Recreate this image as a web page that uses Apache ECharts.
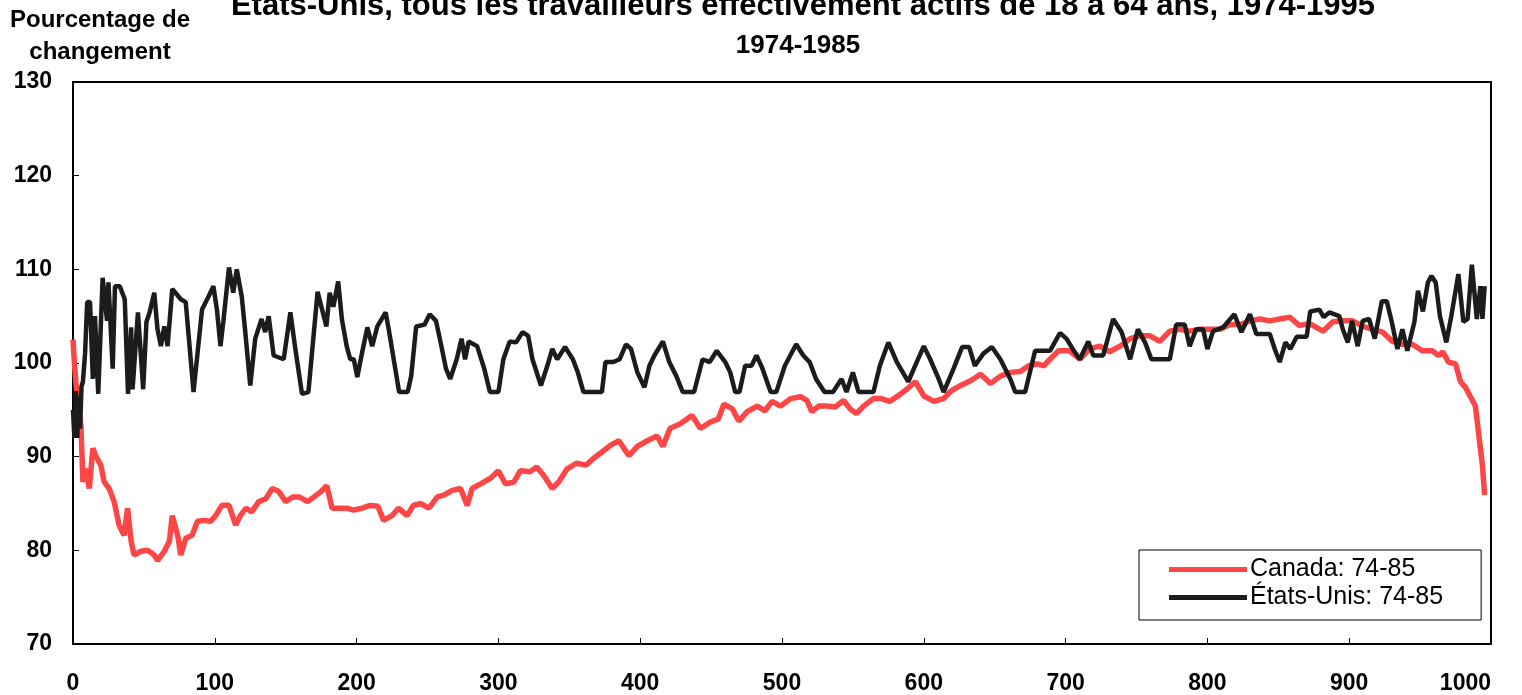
<!DOCTYPE html>
<html>
<head>
<meta charset="utf-8">
<script src="https://cdn.jsdelivr.net/npm/echarts@6/dist/echarts.min.js"></script>
<style>
  html, body { margin: 0; padding: 0; background: #ffffff; }
  #chart { width: 1522px; height: 695px; }
</style>
</head>
<body>
<div id="chart"></div>
<script>
// Index of change (percent), Canada vs United States, 1974-1985
const caX = [0, 1, 2, 3, 4, 5.6, 7, 9, 11.5, 14, 16, 19.6, 22, 25.5, 29, 32.5, 36, 38.5, 41, 43, 48, 52.6, 57.3, 59.7, 64.4, 68, 70, 73.8, 76, 79.6, 84, 87.8, 92.5, 97, 100.6, 105, 110, 114.7, 118, 122, 126, 131, 136, 140.5, 145, 150, 155, 159.5, 165.5, 171.6, 175, 179, 182.7, 193, 198, 204, 209.6, 215, 219, 225, 229.5, 235.6, 240, 245, 251, 257, 261.5, 267.5, 273.3, 278, 281.5, 287.5, 294.5, 300, 305, 311, 315.5, 322.5, 327, 332, 338, 342.5, 348.5, 355, 362, 367, 373, 379, 385, 392, 398, 405, 412, 416, 421, 428, 436.5, 442.5, 449.5, 455, 459, 465, 469.5, 475.5, 482.5, 488, 493, 499, 506, 513, 517.6, 521, 526, 531.5, 537.5, 543.5, 548, 552.5, 557.5, 564.5, 570, 576, 582, 588, 594, 600, 607, 614, 619, 626, 633, 640, 647, 654, 661, 668, 674, 680, 684.6, 689, 695, 703, 710, 717, 724, 731, 738.5, 745.5, 752.5, 759.5, 766.5, 773.5, 780.5, 787.5, 795, 802, 809, 816, 823, 830, 837, 844, 851, 858, 865, 872, 881.5, 888.5, 895.5, 902.5, 909.5, 916.5, 923.5, 930.5, 937.5, 944.5, 951.5, 958.5, 963, 966, 970, 975, 978.5, 982, 985.5, 989, 991.5, 994, 995.5];
const caY = [102.5, 100, 98, 96.5, 95, 93.3, 87.3, 88.7, 86.6, 90.9, 90.1, 89.1, 87.3, 86.6, 85.2, 82.7, 81.6, 84.5, 81, 79.5, 79.9, 80, 79.5, 78.9, 79.9, 81, 83.7, 81.6, 79.5, 81.3, 81.6, 83.1, 83.2, 83.1, 83.7, 84.8, 84.8, 82.7, 83.7, 84.5, 84.1, 85.2, 85.5, 86.6, 86.3, 85.2, 85.7, 85.7, 85.2, 85.9, 86.3, 86.9, 84.5, 84.5, 84.3, 84.5, 84.8, 84.7, 83.2, 83.7, 84.5, 83.7, 84.8, 85, 84.5, 85.7, 85.9, 86.4, 86.6, 84.8, 86.6, 87.1, 87.7, 88.5, 87.1, 87.3, 88.5, 88.4, 88.9, 88, 86.6, 87.3, 88.7, 89.3, 89.1, 89.8, 90.5, 91.2, 91.7, 90.1, 91.1, 91.7, 92.2, 91.1, 93, 93.5, 94.4, 93, 93.7, 94, 95.6, 95.1, 93.8, 94.8, 95.4, 94.9, 95.9, 95.4, 96.2, 96.4, 96, 94.8, 95.4, 95.4, 95.3, 96, 95.1, 94.6, 95.4, 96.2, 96.2, 95.9, 96.5, 97.2, 98, 96.5, 95.9, 96.2, 97, 97.6, 98.1, 98.8, 97.8, 98.6, 99, 99.1, 99.7, 99.9, 99.7, 100.4, 101.3, 101.3, 100.4, 101.5, 101.8, 101.2, 101.8, 102.6, 102.9, 102.9, 102.3, 103.4, 103.6, 103.4, 103.6, 103.6, 103.6, 104.1, 104.1, 104.5, 104.7, 104.5, 104.7, 104.9, 104, 104.2, 103.4, 104.4, 104.5, 104.5, 103.9, 103.6, 103.3, 102.3, 102, 102, 101.3, 101.3, 100.8, 101.2, 100.1, 99.9, 98, 97.4, 96.4, 95.4, 92.2, 89, 85.9];

const usX = [0, 1, 2, 3, 4, 5, 6, 7, 8.5, 10, 12, 14, 15.5, 17.8, 20.9, 24, 25, 28, 29.6, 33, 36.5, 38.8, 41, 42, 45.8, 49.5, 51.8, 54, 57.3, 59.6, 62, 64.4, 66.7, 70, 76, 79.5, 85, 91, 95.6, 99, 101.5, 104, 106, 110, 113, 115.5, 119, 121.5, 125, 128.5, 133, 135.5, 138, 141.5, 148.6, 153.3, 156.8, 161.5, 166, 172.5, 178.7, 181, 183.6, 187, 189.6, 193, 195.5, 198, 200.5, 204, 207.6, 211, 214.6, 220.5, 223, 226.5, 230, 236, 238.5, 242, 248, 251.5, 256, 259.8, 263, 266, 270.6, 274, 276.5, 279, 285, 290, 294, 300, 303.5, 308, 312.5, 317, 321, 324, 330, 334.5, 338, 341.5, 347, 352.5, 356, 360, 373, 375.5, 381, 385.5, 390, 393.5, 398, 403, 406.5, 410, 416, 420.5, 425.5, 430, 438, 444, 449, 454, 460, 463.5, 467, 470, 474, 478.5, 482, 486, 492, 496, 502, 510, 515, 519.5, 524, 530, 536, 542, 545.5, 550, 554, 564.5, 569, 575, 581, 589, 593, 600, 604.5, 610.5, 614, 621, 627, 632, 636, 642, 648, 654, 661, 664.5, 671.5, 678.5, 689, 696, 700.6, 705, 710, 716, 719.5, 726.5, 733.5, 739.5, 745.5, 751, 756, 760.5, 773.5, 778, 784, 787.5, 792, 797, 800, 804, 811, 819, 824, 830, 834.5, 844, 847.5, 851, 855, 858.5, 863, 870, 872.5, 879, 882, 886, 893, 895.5, 899, 902, 906, 909.5, 914, 918, 923, 926.5, 930, 934, 937.5, 941, 946, 948.5, 952, 955.5, 958, 961, 964, 968.5, 972, 977, 980.5, 983.5, 986.5, 990, 992.5, 994, 995.5];
const usY = [95, 92, 97, 92, 96.5, 93, 97.5, 98, 101, 106.5, 106.5, 98.3, 105, 96.7, 109.1, 104.5, 108.6, 99.4, 108.2, 108.2, 106.8, 96.7, 103.8, 97.2, 105.4, 97.2, 104.4, 105.4, 107.5, 103.6, 101.8, 103.9, 101.8, 107.9, 106.8, 106.5, 96.9, 105.7, 107.1, 108.2, 105.7, 101.8, 104.4, 110.2, 107.5, 110, 107.1, 103.3, 97.6, 102.6, 104.7, 103.3, 105, 100.8, 100.4, 105.4, 101.5, 96.7, 96.9, 107.6, 103.9, 107.5, 106, 108.7, 104.7, 101.8, 100.4, 100.4, 98.5, 101.2, 103.8, 101.8, 103.9, 105.4, 103.3, 100.1, 96.9, 96.9, 98.6, 103.9, 104.1, 105.2, 104.5, 101.8, 99.4, 98.3, 100.4, 102.6, 100.4, 102.3, 101.8, 99.4, 96.9, 96.9, 100.4, 102.3, 102.2, 103.3, 102.9, 100.4, 97.6, 99.7, 101.5, 100.4, 101.7, 100.4, 99, 96.9, 96.9, 100.1, 100.1, 100.4, 102, 101.5, 99, 97.4, 99.7, 100.8, 102.3, 100.1, 98.6, 96.9, 96.9, 100.4, 100.1, 101.3, 100.1, 99, 96.9, 96.9, 99.7, 99.7, 100.8, 99.5, 96.9, 96.9, 99.7, 102, 100.8, 100.1, 98.3, 96.9, 96.9, 98.3, 96.9, 99, 96.9, 96.9, 99.7, 102.2, 100.1, 98, 99.4, 101.8, 100.4, 98.3, 96.9, 99.4, 101.7, 101.7, 99.7, 101, 101.7, 100.4, 98.3, 96.9, 96.9, 101.3, 101.3, 103.2, 102.6, 101.5, 100.4, 102.3, 100.8, 100.8, 104.7, 103.3, 100.4, 103.6, 102.2, 100.4, 100.4, 104.1, 104.1, 101.8, 103.6, 103.6, 101.5, 103.4, 103.8, 105.2, 103.3, 105.2, 103.1, 103.1, 101.5, 100.1, 102.2, 101.5, 102.8, 102.8, 105.5, 105.7, 104.9, 105.4, 105, 103.6, 102.2, 104.5, 101.8, 104.5, 104.7, 102.6, 106.6, 106.6, 104.4, 101.5, 103.6, 101.3, 104.4, 107.7, 105.5, 108.6, 109.3, 108.6, 105, 102.2, 105, 109.5, 104.4, 104.7, 110.5, 104.7, 108.2, 104.7, 108.2];

const seriesNames = ['Canada: 74-85', 'États-Unis: 74-85'];
const titleText = 'États-Unis, tous les travailleurs effectivement actifs de 18 à 64 ans, 1974-1995';
const subtitleText = '1974-1985';
const yAxisName = 'Pourcentage de\nchangement';

const pairs = (xs, ys) => xs.map((x, i) => [x, ys[i]]);

const FONT = '"Liberation Sans", Arial, sans-serif';
const chart = echarts.init(document.getElementById('chart'), null, { renderer: 'canvas' });

chart.setOption({
  backgroundColor: '#ffffff',
  animation: false,
  title: [
    {
      text: titleText,
      left: 803, top: -9, textAlign: 'center', padding: 0,
      textStyle: { fontFamily: FONT, fontSize: 31, fontWeight: 'bold', color: '#000' }
    },
    {
      text: subtitleText,
      left: 798, top: 33, textAlign: 'center', padding: 0,
      textStyle: { fontFamily: FONT, fontSize: 26, fontWeight: 'bold', color: '#000' }
    },
    {
      text: yAxisName,
      left: 100, top: 4, textAlign: 'center', padding: 0,
      textStyle: { fontFamily: FONT, fontSize: 24, fontWeight: 'bold', color: '#000', lineHeight: 32, align: 'center' }
    }
  ],
  legend: {
    orient: 'vertical',
    left: 1139, top: 550,
    padding: [7, 38, 10, 30],
    itemGap: 3,
    itemWidth: 78, itemHeight: 5,
    icon: 'rect',
    borderColor: '#000', borderWidth: 1,
    backgroundColor: '#fff',
    textStyle: { fontFamily: FONT, fontSize: 25, color: '#000', padding: [0, 0, 0, -2] },
    data: seriesNames
  },
  grid: {
    left: 73, top: 82, right: 31, bottom: 49,
    show: true, borderColor: '#000', borderWidth: 2, containLabel: false
  },
  xAxis: {
    type: 'value', min: 0, max: 1000, interval: 100,
    axisLine: { show: true, lineStyle: { color: '#000', width: 2 } },
    axisTick: { show: true, inside: true, length: 6, lineStyle: { color: '#000' } },
    splitLine: { show: false },
    axisLabel: {
      fontFamily: FONT, fontSize: 23, fontWeight: 'bold', color: '#000', margin: 28,
      alignMaxLabel: 'right', formatter: v => String(v)
    }
  },
  yAxis: {
    type: 'value', min: 70, max: 130, interval: 10,
    axisLine: { show: true, lineStyle: { color: '#000', width: 2 } },
    axisTick: { show: true, inside: true, length: 6, lineStyle: { color: '#000' } },
    splitLine: { show: false },
    axisLabel: { fontFamily: FONT, fontSize: 23, fontWeight: 'bold', color: '#000', margin: 21 }
  },
  series: [
    {
      name: seriesNames[0], type: 'line', showSymbol: false, symbol: 'none',
      data: pairs(caX, caY),
      lineStyle: { color: '#ff4646', width: 5.5 },
      itemStyle: { color: '#ff4646' }
    },
    {
      name: seriesNames[1], type: 'line', showSymbol: false, symbol: 'none',
      data: pairs(usX, usY),
      lineStyle: { color: '#1c1c1c', width: 4.5 },
      itemStyle: { color: '#1c1c1c' }
    }
  ]
});
</script>
</body>
</html>
